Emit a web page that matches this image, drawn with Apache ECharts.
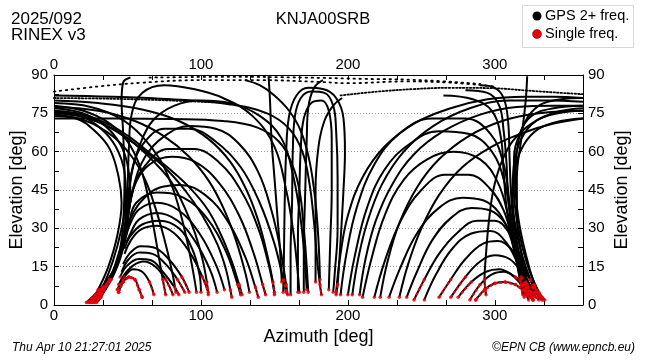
<!DOCTYPE html>
<html><head><meta charset="utf-8">
<script src="https://cdn.jsdelivr.net/npm/echarts@6/dist/echarts.min.js"></script>
<style>html,body{margin:0;padding:0;background:#fff}#c{width:650px;height:360px}</style>
</head><body><div id="c"></div>
<script>
// ---- text / ticks ----
const xLabels = [0, 100, 200, 300];
const yLabels = [0, 15, 30, 45, 60, 75, 90];
const legendLabels = ['GPS 2+ freq.', 'Single freq.'];
const legendColors = ['#000000', '#e8000b'];

// ---- satellite tracks [azimuth, elevation] ----
const LE1 = [[0,82],[40,81.5],[80,80.5],[120,78.5],[145,75],[160,69],[169,60],[174,47],[177,32],[179,18],[181,8],[182,4]];
const LE2 = [[0,76],[20,74.5],[38,70.5],[52,65.5],[65,59.5],[80,52.5],[93,45.5],[105,37],[114,27],[121,17],[126,8],[128,4]];
const LE3 = [[0,75.5],[25,73],[45,67],[60,61],[75,54],[89,45],[101,35],[111,24],[117,14],[120,6],[121,3]];
const LE4 = [[0,75],[20,73.5],[40,69],[55,63],[68,56],[80,48],[89,38],[96,28],[101,18],[104,9],[105,4]];
const LE5 = [[0,73],[40,73],[80,72.8],[115,72],[138,69.5],[153,64],[162,55],[167,45],[170,30],[172,15],[173,5]];
const LE6 = [[0,77],[20,75],[35,70],[45,63],[50,55],[52,45],[50,35],[45,22],[38,10],[32,3],[29,1]];
const LE7 = [[0,75.5],[18,74],[32,69],[42,62],[48,52],[49,42],[46,30],[40,17],[33,7],[27,2]];
const LE8 = [[0,74],[15,73],[28,68],[38,61],[44,50],[46,40],[43,27],[37,15],[30,6],[25,1]];
const LE9 = [[0,78],[20,76],[38,71],[50,64],[58,55],[63,45],[67,33],[71,20],[74,10],[76,4]];
const LE10 = [[0,74.5],[22,72],[40,66],[53,58],[62,49],[69,38],[75,26],[80,14],[83,5]];
const LE11 = [[0,79],[25,77.5],[45,73],[60,66],[72,57],[80,47],[86,36],[91,24],[95,12],[97,5]];
const LE12 = [[0,80],[30,79],[60,76.5],[85,72],[105,65],[120,56],[131,45],[139,33],[145,20],[149,9],[150,4]];
const LE13 = [[0,77.5],[30,76],[55,72],[75,66],[92,58],[106,48],[116,37],[124,25],[130,13],[133,5]];

const SA0a = [[44,5],[47,9],[51,11],[55,10],[58,6],[60,3]];
const SA0b = [[43,6],[48,11],[54,14],[60,13],[65,9],[68,4]];
const SA1 = [[44,8],[48,12],[54,15.5],[61,17],[69,15],[76,10],[81,4]];
const SA2 = [[45,11],[50,15.5],[58,18],[66,17.5],[74,13],[82,7],[85,4]];
const SA3 = [[46,13],[51,18],[58,20.5],[67,20],[76,16],[84,10],[89,5]];
const SA4 = [[47,16],[52,20.5],[59,23],[68,22.5],[78,18],[87,11],[92,5]];
const SA5 = [[48,20],[52,25],[59,29.5],[70,31],[82,28],[93,20],[101,11],[105,5]];
const SA6 = [[49,24],[52,28],[58,33.5],[70,36],[84,33],[96,25],[106,14],[111,5]];
const SA7 = [[49,27],[52,32],[58,37.5],[70,40],[85,37],[99,28],[110,16],[116,6]];
const SA8 = [[22,1],[31,6],[40,13],[47,22],[51,32],[56,40],[70,44],[88,42],[104,34],[117,21],[125,8],[127,4]];
const SA9 = [[24,1],[33,7],[42,15],[48,25],[51,37],[55,47],[65,55],[80,58],[96,56],[112,48],[126,35],[136,20],[142,8],[144,4]];
const SA10 = [[26,1],[35,7],[43,16],[49,28],[51,42],[54,55],[62,64],[75,69],[92,69],[110,64],[127,54],[140,40],[150,24],[156,10],[158,5]];
const SA11 = [[27,1],[36,8],[44,18],[48,30],[50,45],[51,62],[53,75],[60,83],[75,86],[95,84.5],[115,81],[135,74],[150,62],[158,45],[163,28],[166,12],[167,5]];
const SA12 = [[28,1],[37,9],[44,19],[47,32],[48,50],[47,68],[46,80],[47,87],[52,89]];
const SA13 = [[23,1],[32,6],[41,14],[47,25],[50,40],[53,52],[58,62],[67,72],[82,78],[100,80],[120,79],[140,74],[155,65],[163,50],[168,33],[171,15],[172,6]];
const SA14 = [[25,1],[34,7],[43,16],[48,27],[53,35],[60,41],[72,46],[86,47],[103,43],[118,33],[130,19],[137,7],[139,3]];
const SA15 = [[48,22],[52,27],[60,31.5],[72,33],[85,30],[94,22],[99,12],[100,5]];
const SA16 = [[29,2],[38,10],[45,19],[49,30],[53,43],[60,53],[78,61],[95,61],[112,56],[127,45],[139,30],[146,16],[150,5]];
const SA17 = [[30,2],[39,10],[46,20],[50,33],[54,46],[62,58],[75,66],[92,70],[110,69],[126,63],[139,52],[148,37],[154,22],[158,8],[159,4]];

const M1 = [[146,89.5],[147,80],[148,65],[150,50],[152,35],[154,20],[155,9]];
const M2 = [[156,5],[156.5,20],[157,40],[158,60],[160,74],[165,82],[173,85],[183,84.5],[192,81],[197,73],[198,60],[197,45],[195,25],[193,8],[192,4]];
const M3 = [[161,4],[161,20],[162,40],[162.5,60],[164,74],[168,81],[175,83.5],[184,83],[190,78],[192,68],[193,50],[193,30],[191,12],[190,5]];
const M4 = [[166,5],[166,25],[167,45],[168,62],[170,73],[175,79],[182,80],[187,76],[189,65],[189,45],[188,25],[187,6]];
const M5 = [[170,5],[170,20],[171,45],[172,65],[173,77],[177,85],[183,88]];
const M6 = [[178,9],[178,25],[178,45],[180,62],[184,72],[190,78],[196,81]];
const M7 = [[130,88],[140,86],[150,82],[160,76],[168,68],[174,56],[178,40],[180,25],[181,10]];

const RC1 = [[192,5],[195,20],[200,35],[210,50],[225,62],[245,71],[270,77],[295,80.5],[320,81.5],[340,81.5],[360,81]];
const RC2 = [[208,4],[212,18],[219,33],[230,47],[245,59],[265,68],[290,74.5],[315,77.5],[340,78],[360,78]];
const RC3 = [[222,3],[227,17],[235,32],[247,46],[262,57],[282,66],[305,72],[330,75],[360,76]];
const RC4 = [[235,3],[241,16],[250,30],[262,43],[278,54],[298,62],[320,67.5],[340,71],[360,73]];
const RC5 = [[203,4],[207,18],[213,32],[223,47],[238,60],[258,70],[283,77],[310,80],[335,80],[360,79.5]];

const RB1 = [[322,89.5],[321,80],[318,65],[315,50],[315,35],[318,20],[322,8],[325,3]];
const RB2 = [[290,86],[300,85],[306,81],[309,72],[310,58],[311,44],[313,30],[317,16],[322,6],[326,2]];
const RB3 = [[280,84],[295,83],[303,78],[306,68],[308,55],[309,42],[312,28],[316,15],[320,6],[323,2]];
const RB4 = [[265,82],[285,80.5],[298,76],[304,66],[306,52],[308,38],[312,24],[318,11],[323,4]];
const RB5 = [[360,73],[345,72],[330,69],[320,63],[314,54],[312,42],[314,28],[319,15],[326,5],[330,2]];
const RB6 = [[360,76],[343,75],[328,72],[318,65],[313,55],[312,42],[315,28],[321,15],[328,5],[332,2]];
const RB7 = [[360,78],[340,77],[325,74],[317,67],[313,57],[313,45],[316,30],[322,16],[330,5],[334,2]];
const RB8 = [[360,81],[345,80.5],[330,78],[320,71],[315,60],[314,48],[316,34],[321,20],[327,8],[331,3]];
const RE9 = [[360,77],[342,75.5],[325,71],[312,64],[304,55],[299,45],[296,33],[294,20],[293,10],[294,4]];

const RA1 = [[287,2],[293,6],[300,8.5],[307,9],[314,8],[321,5],[326,2]];
const RA2 = [[283,2],[290,8],[298,12],[306,13],[314,11],[322,7],[328,3]];
const RA3 = [[270,3],[280,11],[290,17],[300,19.5],[310,18],[318,13],[325,7],[331,3]];
const RA4 = [[262,3],[270,10],[280,18],[292,24],[302,25],[311,22],[319,15],[327,7],[333,2]];
const RA5 = [[245,2],[252,10],[262,20],[274,28],[288,33],[300,33],[310,28],[317,19],[324,10],[330,4]];
const RA6 = [[240,3],[247,13],[257,25],[270,34],[284,38],[297,37],[307,32],[314,23],[320,12],[326,4]];
const RA7 = [[228,3],[236,15],[247,28],[262,38],[278,42],[292,41],[303,36],[311,26],[317,14],[323,4]];
const RA8 = [[218,3],[225,17],[236,33],[250,45],[266,51],[282,51],[296,46],[306,37],[312,25],[317,12],[321,4]];
const RA9 = [[210,3],[216,18],[225,35],[238,49],[254,57],[272,60],[290,57],[302,48],[309,35],[313,22],[318,8],[320,3]];
const RA10 = [[200,4],[205,20],[213,38],[225,53],[242,63],[262,68],[282,67],[298,60],[307,47],[311,33],[315,18],[319,6]];
const RA11 = [[195,4],[199,20],[206,38],[218,55],[235,67],[257,73],[280,73],[297,67],[306,55],[310,40],[313,25],[317,10],[319,4]];
const RA12 = [[275,3],[284,9],[294,13],[303,14],[311,12],[318,8],[324,3]];
const RA13 = [[252,2],[260,12],[271,22],[284,28],[297,29],[307,25],[315,17],[321,9],[326,3]];

// near-zenith passes (sparse samples)
const D1 = [[0,83.5],[30,85.5],[60,87],[100,88],[140,88],[180,87.3],[200,86.8],[240,87.5],[270,87],[300,85.5]];
const D2 = [[195,82],[220,83.5],[245,84.5],[270,85],[300,84.8],[320,84],[340,83.2],[360,82.5]];
const D3 = [[0,81],[40,80.7],[80,80],[120,79]];
const D4 = [[65,89],[120,89.3],[170,89],[210,88.5],[250,88],[290,86.5]];

const solidTracks = [LE1,LE2,LE3,LE4,LE5,LE6,LE7,LE8,LE9,LE10,LE11,LE12,LE13,
  SA0a,SA0b,SA1,SA2,SA3,SA4,SA5,SA6,SA7,SA8,SA9,SA10,SA11,SA12,SA13,SA14,SA15,SA16,SA17,
  M1,M2,M3,M4,M5,M6,M7,RC1,RC2,RC3,RC4,RC5,RB1,RB2,RB3,RB4,RB5,RB6,RB7,RB8,RE9,
  RA1,RA2,RA3,RA4,RA5,RA6,RA7,RA8,RA9,RA10,RA11,RA12,RA13];
const sparseTracks = [D1, D4];
const denseTracks = [D2, D3];
const lowElevation = 12; // single-frequency (red) samples below this elevation at track ends

// ---- chart ----
const FONT = '"Liberation Sans", Arial, Helvetica, sans-serif';
const chart = echarts.init(document.getElementById('c'), null, {renderer: 'canvas'});

function xAxisDef(pos, withName) {
  const a = {
    type: 'value', position: pos, min: 0, max: 360, interval: 100,
    axisLine: {show: true, onZero: false, lineStyle: {color: '#000', width: 1}},
    axisTick: {show: true, inside: true, length: 5, lineStyle: {color: '#000', width: 1}},
    minorTick: {show: true, splitNumber: 3, length: 5, lineStyle: {color: '#000', width: 1}},
    axisLabel: {show: true, showMaxLabel: false, margin: 3, fontSize: 15, color: '#000', fontFamily: FONT,
      formatter: v => (xLabels.indexOf(Math.round(v)) >= 0 ? String(Math.round(v)) : '')},
    splitLine: {show: false}
  };
  if (withName) {
    a.name = 'Azimuth [deg]'; a.nameLocation = 'middle'; a.nameGap = 15;
    a.nameTextStyle = {fontSize: 18, color: '#000', fontFamily: FONT};
  }
  return a;
}
function yAxisDef(pos, grid) {
  return {
    type: 'value', position: pos, min: 0, max: 90, interval: 15,
    axisLine: {show: true, onZero: false, lineStyle: {color: '#000', width: 1}},
    axisTick: {show: true, inside: true, length: 5, lineStyle: {color: '#000', width: 1}},
    minorTick: {show: true, splitNumber: 2, length: 5, lineStyle: {color: '#000', width: 1}},
    axisLabel: {show: true, margin: pos === 'left' ? 6 : 5, fontSize: 15, color: '#000', fontFamily: FONT,
      formatter: v => (yLabels.indexOf(Math.round(v)) >= 0 ? String(Math.round(v)) : '')},
    splitLine: {show: grid, lineStyle: {color: '#9a9a9a', width: 1, type: [1, 2]}},
    name: 'Elevation [deg]', nameLocation: 'middle', nameRotate: 90, nameGap: pos === 'left' ? 28 : 30,
    nameMoveOverlap: false,
    nameTextStyle: {fontSize: 18, color: '#000', fontFamily: FONT}
  };
}

// red low-elevation end pieces: the track's own end samples below lowElevation
function lowPieces(t) {
  const out = [];
  let i = 0;
  while (i < t.length && t[i][1] < lowElevation) i++;
  if (i >= 1) out.push(t.slice(0, i));
  let j = t.length - 1;
  while (j >= 0 && t[j][1] < lowElevation) j--;
  if (j < t.length - 1) out.push(t.slice(j + 1));
  return out;
}

const series = [];
solidTracks.forEach(t => series.push({
  type: 'line', data: t, smooth: 0.4, symbol: 'none', showSymbol: false, silent: true,
  lineStyle: {width: 2, color: legendColors[0]}, z: 3, clip: true
}));
sparseTracks.forEach(t => series.push({
  type: 'line', data: t, smooth: 0.4, symbol: 'none', showSymbol: false, silent: true,
  lineStyle: {width: 1.8, color: legendColors[0], type: [1.5, 4.5], cap: 'round'}, z: 3, clip: true
}));
denseTracks.forEach(t => series.push({
  type: 'line', data: t, smooth: 0.4, symbol: 'none', showSymbol: false, silent: true,
  lineStyle: {width: 1.8, color: legendColors[0], type: [1.5, 2], cap: 'round'}, z: 3, clip: true
}));
const redDots = [];
solidTracks.forEach(t => lowPieces(t).forEach(p => {
  if (p.length >= 2) {
    series.push({
      type: 'line', data: p, smooth: false, symbol: 'none', showSymbol: false, silent: true,
      lineStyle: {width: 2, color: legendColors[1], type: [3, 2]}, z: 4, clip: true
    });
  }
  p.forEach(pt => redDots.push(pt));
}));
series.push({
  type: 'scatter', data: redDots, symbol: 'circle', symbolSize: 3.5, silent: true,
  itemStyle: {color: legendColors[1]}, z: 5
});

const option = {
  animation: false,
  backgroundColor: '#ffffff',
  grid: {left: 54, top: 75, width: 529, height: 230, containLabel: false, outerBoundsMode: 'none'},
  xAxis: [xAxisDef('bottom', true), xAxisDef('top', false)],
  yAxis: [yAxisDef('left', true), yAxisDef('right', false)],
  series: series,
  graphic: [
    {type: 'text', left: 11, top: 11, style: {text: '2025/092\nRINEX v3', font: '17px ' + FONT, fill: '#000', lineHeight: 16}},
    {type: 'text', x: 323, y: 11, style: {text: 'KNJA00SRB', font: '16.5px ' + FONT, fill: '#000', align: 'center', verticalAlign: 'top'}},
    {type: 'rect', shape: {x: 522.5, y: 5.5, width: 111, height: 42}, style: {fill: '#fff', stroke: '#d8d8d8', lineWidth: 1}},
    {type: 'circle', shape: {cx: 537, cy: 16, r: 4.5}, style: {fill: legendColors[0]}},
    {type: 'circle', shape: {cx: 537, cy: 34, r: 4.5}, style: {fill: legendColors[1], stroke: '#600', lineWidth: 0.5}},
    {type: 'text', x: 545, y: 16, style: {text: legendLabels[0], font: '14.5px ' + FONT, fill: '#000', verticalAlign: 'middle'}},
    {type: 'text', x: 545, y: 34, style: {text: legendLabels[1], font: '14.5px ' + FONT, fill: '#000', verticalAlign: 'middle'}},
    {type: 'text', x: 12, y: 348, style: {text: 'Thu Apr 10 21:27:01 2025', font: 'italic 12px ' + FONT, fill: '#000', verticalAlign: 'middle'}},
    {type: 'text', x: 635, y: 348, style: {text: '\u00A9EPN CB (www.epncb.eu)', font: 'italic 12px ' + FONT, fill: '#000', align: 'right', verticalAlign: 'middle'}}
  ]
};
chart.setOption(option);
</script></body></html>
